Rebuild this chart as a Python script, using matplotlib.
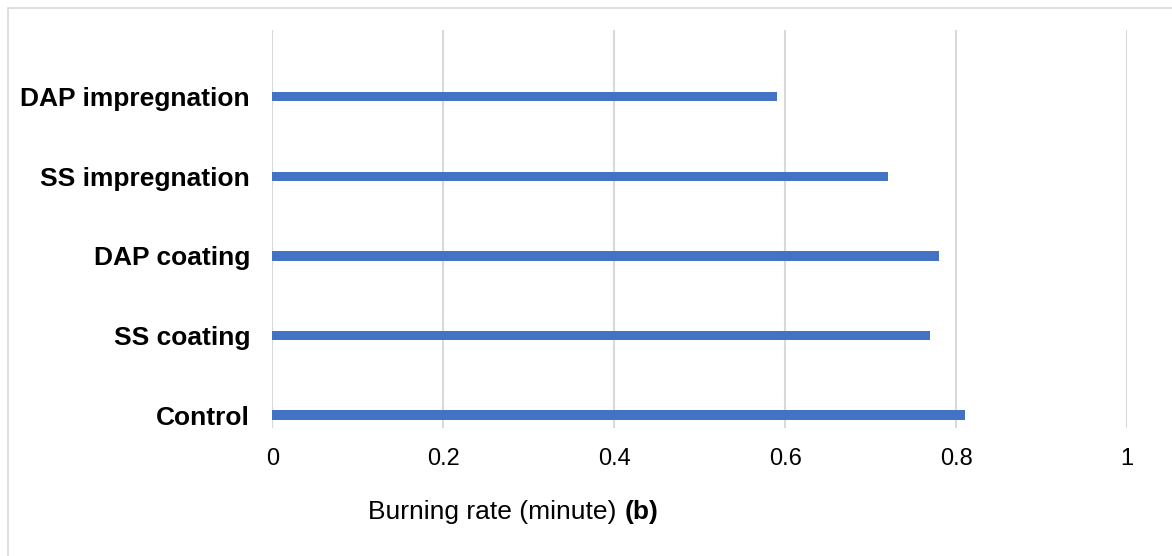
import matplotlib.pyplot as plt
from matplotlib.patches import Rectangle

# data
categorias = ["Control", "SS coating", "DAP coating", "SS impregnation", "DAP impregnation"]
valores = [0.81, 0.77, 0.78, 0.72, 0.59]
ticks_x = [0, 0.2, 0.4, 0.6, 0.8, 1]
rotulos_x = ["0", "0.2", "0.4", "0.6", "0.8", "1"]

plt.rcParams["font.family"] = ["Liberation Sans", "DejaVu Sans"]

fig = plt.figure(figsize=(11.72, 5.56), dpi=100)
ax = fig.add_axes([0.2323, 0.230, 0.7294, 0.716])

pos = list(range(len(categorias)))
ax.barh(pos, valores, height=0.12, color="#4472C4", zorder=3)

ax.set_xlim(0, 1)
ax.set_ylim(-0.163, 4.837)
ax.set_xticks(ticks_x)
ax.set_xticklabels(rotulos_x, fontsize=17)
ax.set_yticks(pos)
ax.set_yticklabels(categorias, fontsize=19, fontweight="bold")
ax.tick_params(axis="both", length=0)
ax.tick_params(axis="y", pad=16)
ax.tick_params(axis="x", pad=14)
ax.grid(axis="x", color="#d9d9d9", linewidth=1.5, zorder=0)
for s in ax.spines.values():
    s.set_visible(False)

# x label with bold "(b)"
fig.text(368 / 1172, 1 - 512 / 556, "Burning rate (minute)", fontsize=19,
         ha="left", va="center")
fig.text(625 / 1172, 1 - 512 / 556, "(b)", fontsize=19, fontweight="bold",
         ha="left", va="center")

# light border around the chart
fig.patches.append(Rectangle((7.5 / 1172, -0.05), 1.2, 1.05 - 7.5 / 556,
                             transform=fig.transFigure, fill=False,
                             edgecolor="#d9d9d9", linewidth=1.2))

fig.savefig("out.png", dpi=100)
plt.close(fig)
